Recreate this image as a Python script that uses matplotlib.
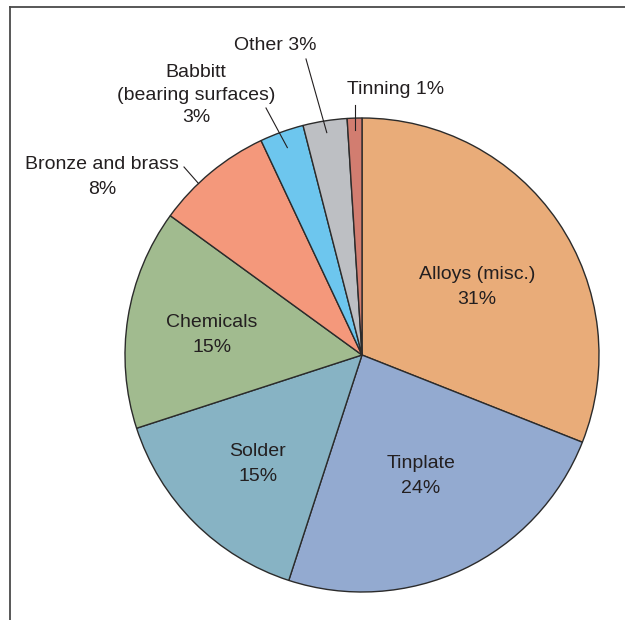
import numpy as np
import matplotlib
matplotlib.use('Agg')
import matplotlib.pyplot as plt
from matplotlib import font_manager

# tin end uses, clockwise from the top
names = ['Alloys (misc.)', 'Tinplate', 'Solder', 'Chemicals',
         'Bronze and brass', 'Babbitt\n(bearing surfaces)', 'Other', 'Tinning']
shares = [31, 24, 15, 15, 8, 3, 3, 1]
colors = ['#E9AC79', '#93AAD0', '#87B3C4', '#A1BB8F',
          '#F4987B', '#6DC6EE', '#BDBFC3', '#D27D70']

avail = set(f.name for f in font_manager.fontManager.ttflist)
fam = [f for f in ['Liberation Sans Narrow', 'Liberation Sans', 'DejaVu Sans'] if f in avail]
plt.rcParams['font.family'] = fam
ink = '#231F20'

fig = plt.figure(figsize=(6.25, 6.2), dpi=100)
ax = fig.add_axes([0, 0, 1, 1])

cx, cy, R = 362, 265, 237
wedges, _ = ax.pie(shares, colors=colors, startangle=90, counterclock=False,
                   center=(cx, cy), radius=R, frame=True,
                   wedgeprops=dict(edgecolor='#2b2b2b', linewidth=1.0))
ax.set_xlim(0, 625)
ax.set_ylim(0, 620)
ax.axis('off')

# frame: top and left rules
ax.plot([10, 625], [613, 613], color='#4a4a4a', lw=1.3, clip_on=False)
ax.plot([10, 10], [0, 613], color='#4a4a4a', lw=1.3, clip_on=False)

fs = 14
ls = 1.55

def on_wedge(w, frac, t=0.5):
    a = np.deg2rad(w.theta1 + t * (w.theta2 - w.theta1))
    return cx + frac * R * np.cos(a), cy + frac * R * np.sin(a)

# labels inside the big slices
inside = {0: (477, 333), 1: (421, 144), 2: (258, 156), 3: (212, 285)}
for i, (x, y) in inside.items():
    ax.text(x, y, f'{names[i]}\n{shares[i]}%', ha='center', va='center',
            fontsize=fs, color=ink, linespacing=ls)

# small slices with leader lines
ax.text(102, 443, f'{names[4]}\n{shares[4]}%', ha='center', va='center',
        fontsize=fs, color=ink, linespacing=ls)
ex, ey = on_wedge(wedges[4], 1.0, 0.64)
ax.plot([184, ex], [453, ey], color=ink, lw=0.8)

ax.text(196, 525, f'{names[5]}\n{shares[5]}%', ha='center', va='center',
        fontsize=fs, color=ink, linespacing=1.45)
ex, ey = on_wedge(wedges[5], 0.93)
ax.plot([266, ex], [512, ey], color=ink, lw=0.8)

ax.text(275, 575, f'{names[6]} {shares[6]}%', ha='center', va='center',
        fontsize=fs, color=ink)
ex, ey = on_wedge(wedges[6], 0.95)
ax.plot([306, ex], [561, ey], color=ink, lw=0.8)

ax.text(396, 531, f'{names[7]} {shares[7]}%', ha='center', va='center',
        fontsize=fs, color=ink)
ex, ey = on_wedge(wedges[7], 0.95)
ax.plot([ex, ex], [515, ey], color=ink, lw=0.8)

fig.savefig('out.png', dpi=100, facecolor='white')
